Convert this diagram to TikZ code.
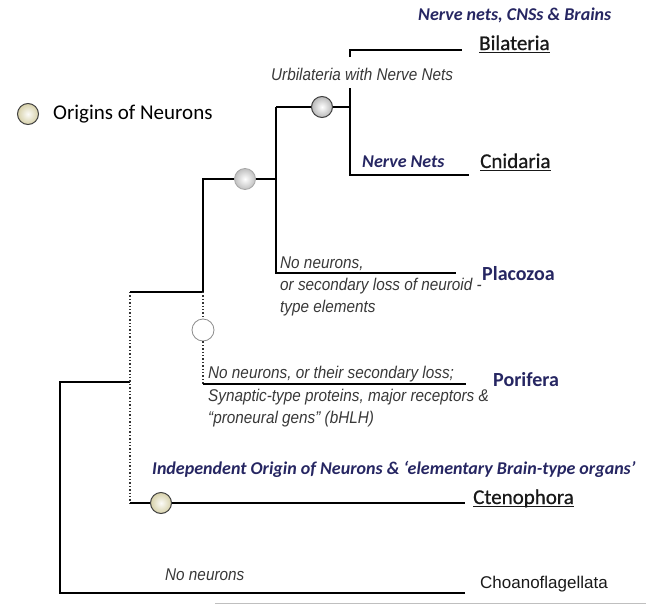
\documentclass[tikz,border=0pt]{standalone}
\usepackage{fontspec}
\setmainfont{Carlito}
\newfontfamily\calmed[FakeBold=0.7]{Carlito}
\newfontfamily\arialc[FakeStretch=0.9]{Liberation Sans}
\newfontfamily\arialf{Liberation Sans}
\newcommand{\myul}[1]{\setbox0\hbox{#1}\rlap{\rule[-3.2pt]{\wd0}{1.4pt}}\box0}
\definecolor{navy}{RGB}{38,38,98}
\definecolor{cream}{RGB}{214,208,168}
\tikzset{
  branch/.style={line width=1.6pt, black},
  dotbranch/.style={line width=1.4pt, dotted, black!80},
  taxon/.style={inner sep=0pt, anchor=base west, font=\calmed\fontsize{21}{24}\selectfont, text=black!90},
  taxonb/.style={inner sep=0pt, anchor=base west, font=\fontsize{20}{24}\selectfont\bfseries, text=navy},
  note/.style={inner sep=0pt, anchor=base west, font=\arialc\itshape\fontsize{17}{20}\selectfont, text=black!78},
  navynote/.style={inner sep=0pt, anchor=base west, font=\fontsize{18}{21}\selectfont\bfseries\itshape, text=navy},
  origin/.style={circle, inner sep=0pt, minimum size=21pt, draw=black!75, line width=1pt, shading=radial, inner color=white!92!cream, outer color=cream},
  greyball/.style={circle, inner sep=0pt, minimum size=21pt, draw=black!75, line width=1pt, shading=radial, inner color=white, outer color=black!28},
  paleball/.style={circle, inner sep=0pt, minimum size=21pt, draw=black!35, line width=0.8pt, shading=radial, inner color=white, outer color=black!25},
  emptyball/.style={circle, inner sep=0pt, minimum size=22pt, draw=black!45, line width=0.8pt, fill=white}
}
\begin{document}
\begin{tikzpicture}[x=1pt, y=-1pt]
\useasboundingbox (0,0) rectangle (646,605);

% legend
\node[origin] (leg) at (28,114) {};
\node[inner sep=0pt, anchor=base west, font=\fontsize{21}{24}\selectfont] (legt) at (53,119) {Origins of Neurons};

% coordinates of the tree
\coordinate (rootT) at (60,382);
\coordinate (rootB) at (60,593);
\coordinate (choE) at (465,593);
\coordinate (rj) at (130,382);
\coordinate (d1T) at (130,292);
\coordinate (d1B) at (130,503);
\coordinate (ctE) at (465,503);
\coordinate (s1) at (203,292);
\coordinate (s1T) at (203,179);
\coordinate (porS) at (203,384);
\coordinate (porE) at (466,384);
\coordinate (s2) at (276,179);
\coordinate (s2T) at (276,107);
\coordinate (plB) at (276,273);
\coordinate (plE) at (456,273);
\coordinate (s3) at (350,107);
\coordinate (s3T) at (350,88);
\coordinate (s3B) at (350,175);
\coordinate (cnE) at (469,175);
\coordinate (biT) at (350,57);
\coordinate (biS) at (350,50);
\coordinate (biE) at (462,50);

% circles
\node[origin] (oc) at (161,503) {};
\node[emptyball] (ow) at (203,330) {};
\node[paleball] (og) at (245,179) {};
\node[greyball] (ob) at (322,107) {};

% branches
\draw[branch] (choE) -- (rootB) -- (rootT) -- (rj);
\draw[dotbranch] (d1T) -- (d1B);
\draw[branch] (d1T) -- (s1) -- (s1T) -- (og) -- (s2);
\draw[branch] (d1B) -- (oc) -- (ctE);
\draw[dotbranch] (s1) -- (ow) -- (porS);
\draw[branch] (porS) -- (porE);
\draw[branch] (s2T) -- (plB) -- (plE);
\draw[branch] (s2T) -- (ob) -- (s3);
\draw[branch] (s3T) -- (s3B) -- (cnE);
\draw[branch] (biT) -- (biS) -- (biE);

% stray bottom rule
\coordinate (brL) at (215,603);
\coordinate (brR) at (646,603);
\draw[black!25, line width=1pt] (brL) -- (brR);

% labels
\node[navynote] (title) at (418,20) {Nerve nets, CNSs \& Brains};
\node[taxon] (bil) at (479,50) {\myul{Bilateria}};
\node[note] (urb) at (271,80) {Urbilateria with Nerve Nets};
\node[navynote] (nn) at (362,167) {Nerve Nets};
\node[taxon] (cni) at (480,168) {\myul{Cnidaria}};
\node[note] (pl1) at (280,268) {No neurons,};
\node[note] (pl2) at (280,290) {or secondary loss of neuroid -};
\node[note] (pl3) at (280,312) {type elements};
\node[taxonb] (pla) at (482,280) {Placozoa};
\node[note] (po1) at (208,378) {No neurons, or their secondary loss;};
\node[note] (po2) at (208,401) {Synaptic-type proteins, major receptors \&};
\node[note] (po3) at (208,423) {“proneural gens” (bHLH)};
\node[taxonb] (por) at (493,386) {Porifera};
\node[navynote] (ind) at (152,474) {Independent Origin of Neurons \& ‘elementary Brain-type organs’};
\node[taxon] (cte) at (473,504) {\myul{Ctenophora}};
\node[note] (nn2) at (165,580) {No neurons};
\node[inner sep=0pt, anchor=base west, font=\arialf\fontsize{17}{20}\selectfont, text=black!90] (cho) at (480,588) {Choanoflagellata};
\end{tikzpicture}
\end{document}
